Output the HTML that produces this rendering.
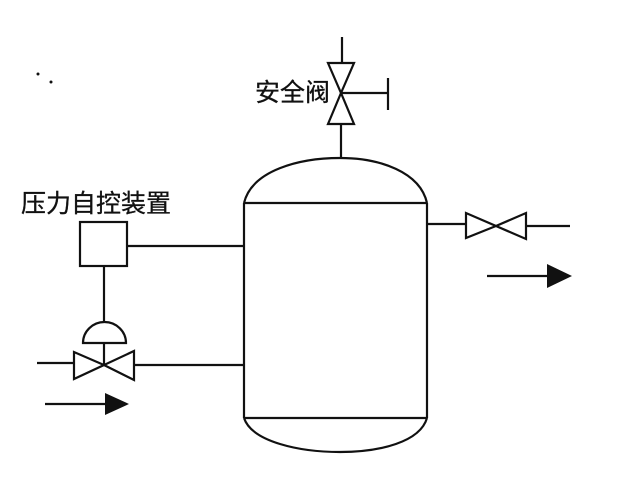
<!DOCTYPE html>
<html><head><meta charset="utf-8"><style>
html,body{margin:0;padding:0;background:#fff;}
svg{display:block}
text{font-family:"Liberation Sans","Noto Sans CJK SC",sans-serif;fill:#111}
</style></head><body>
<svg width="644" height="486" viewBox="0 0 644 486" xmlns="http://www.w3.org/2000/svg">
<g stroke="#111" stroke-width="2.2" fill="none">
<line x1="244" y1="203" x2="244" y2="418"/>
<line x1="427" y1="203" x2="427" y2="418"/>
<line x1="244" y1="203" x2="427" y2="203"/>
<line x1="244" y1="418" x2="427" y2="418"/>
<path d="M244 203 C252 170 300 158 340 158 C380 158 420 172 427 203"/>
<path d="M244 418 C252 442 300 452 340 452 C380 452 420 442 427 418"/>
<line x1="342" y1="37" x2="342" y2="63"/>
<path d="M328 63 L354 63 L341 93 Z"/>
<path d="M341 93 L328 124 L354 124 Z"/>
<line x1="341" y1="93" x2="388" y2="93"/>
<line x1="388" y1="78" x2="388" y2="110"/>
<line x1="341" y1="124" x2="341" y2="158"/>
<rect x="80" y="222" width="47" height="44"/>
<line x1="127" y1="246" x2="244" y2="246"/>
<line x1="104" y1="266" x2="104" y2="322"/>
<path d="M83 343 A21.5 21 0 0 1 126 343 Z"/>
<line x1="104" y1="343" x2="104" y2="365"/>
<path d="M74 352 L74 379 L104 365 Z"/>
<path d="M134 351 L134 380 L104 365 Z"/>
<line x1="37" y1="363" x2="74" y2="363"/>
<line x1="134" y1="365" x2="244" y2="365"/>
<line x1="45" y1="404" x2="106" y2="404"/>
<line x1="427" y1="224" x2="466" y2="224"/>
<path d="M466 213 L466 238 L496 226 Z"/>
<path d="M526 213 L526 239 L496 226 Z"/>
<line x1="526" y1="226" x2="570" y2="226"/>
<line x1="487" y1="276" x2="549" y2="276"/>
</g>
<path d="M105 393 L129 404 L105 415 Z" fill="#111"/>
<path d="M547 264 L572 276 L547 288 Z" fill="#111"/>
<circle cx="38" cy="74" r="1.5" fill="#111"/>
<circle cx="51" cy="82" r="1.5" fill="#111"/>
<text x="255" y="101" font-size="25" stroke="#111" stroke-width="0.3">安全阀</text>
<text x="21" y="212" font-size="25" stroke="#111" stroke-width="0.3">压力自控装置</text>
</svg>
</body></html>
